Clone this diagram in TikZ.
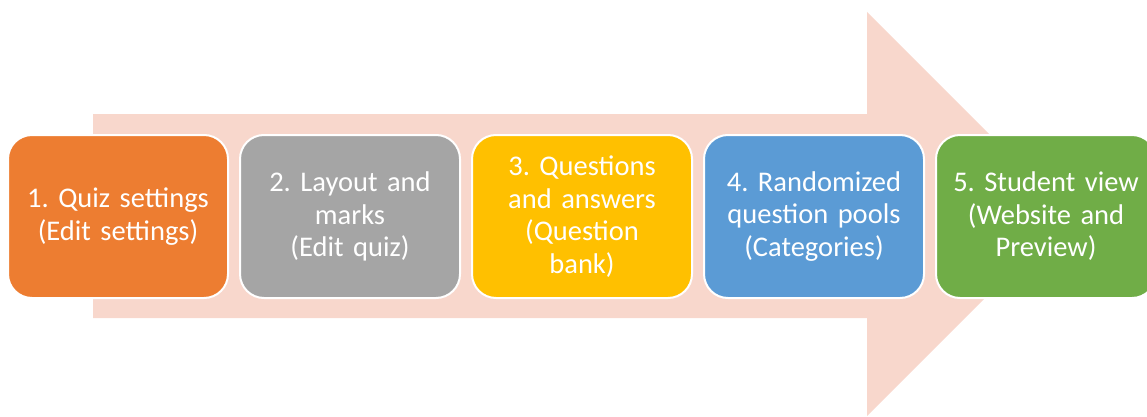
\documentclass[tikz,border=0pt]{standalone}
\usepackage{fontspec}
\setmainfont{Carlito}
\frenchspacing
\definecolor{arrowfill}{RGB}{248,215,204}
\definecolor{c1}{HTML}{ED7D31}
\definecolor{c2}{HTML}{A5A5A5}
\definecolor{c3}{HTML}{FFC000}
\definecolor{c4}{HTML}{5B9BD5}
\definecolor{c5}{HTML}{70AD47}
\begin{document}
\begin{tikzpicture}[x=1pt,y=1pt,
  stepbox/.style={draw=white,line width=2pt,rounded corners=24pt,
    minimum width=220pt,minimum height=163pt,inner sep=0pt,
    text=white,align=center,text width=214pt,
    font=\fontsize{28.5}{32.5}\selectfont}]
\useasboundingbox (0,0) rectangle (1147,416);
\begin{scope}
\clip (0,0) rectangle (1147,416);
\fill[arrowfill] (93,302) -- (867,302) -- (867,404) -- (1069,202) -- (867,0) -- (867,98) -- (93,98) -- cycle;
\node[stepbox,fill=c1] (s1) at (118,199.5) {1. Quiz settings\\(Edit settings)};
\node[stepbox,fill=c2] (s2) at (350,199.5) {2. Layout and\\marks\\(Edit quiz)};
\node[stepbox,fill=c3] (s3) at (582,199.5) {3. Questions\\and answers\\(Question\\bank)};
\node[stepbox,fill=c4] (s4) at (814,199.5) {4. Randomized\\question pools\\(Categories)};
\node[stepbox,fill=c5] (s5) at (1046,199.5) {5. Student view\\(Website and\\Preview)};
\end{scope}
\end{tikzpicture}
\end{document}
